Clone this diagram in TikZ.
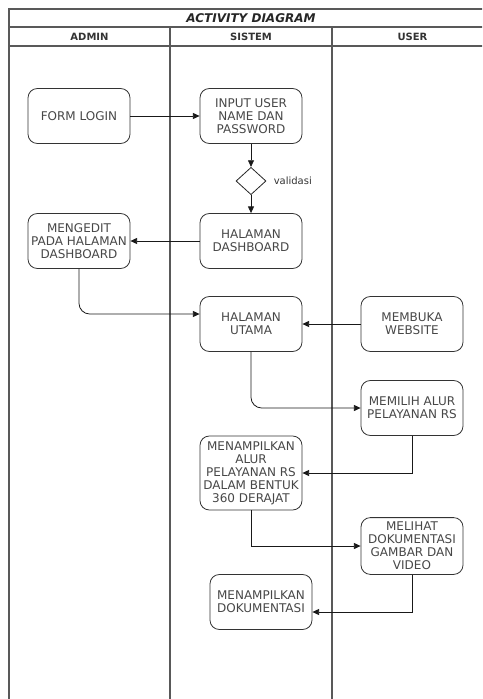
\documentclass[tikz,border=0pt]{standalone}
\usepackage{fontspec}
\setmainfont{DejaVu Sans}
\usetikzlibrary{arrows.meta,shapes.geometric,positioning}

\begin{document}
\begin{tikzpicture}[x=0.75pt, y=-0.75pt,
  lane/.style={line width=1.1pt, draw=black!65},
  act/.style={draw=black!80, line width=0.6pt, rounded corners=7pt, align=center,
    minimum width=76.5pt, minimum height=41.25pt, inner xsep=1pt,
    text=black!72, font=\fontsize{9}{9.75}\selectfont},
  decide/.style={draw=black!85, line width=0.6pt, diamond, inner sep=0pt,
    minimum width=22.5pt, minimum height=20.5pt},
  flow/.style={draw=black!90, line width=0.6pt, -{Triangle[length=5pt,width=4.5pt]}},
  head/.style={font=\fontsize{7.5}{9}\selectfont\bfseries, text=black!80}]
\useasboundingbox (0,0) rectangle (482,699);
\clip (0,0) rectangle (482,699);

% Swimlanes
\draw[lane] (9,9) rectangle (493,710);
\draw[lane] (9,27) -- (493,27);
\draw[lane] (9,46) -- (493,46);
\draw[lane] (170,27) -- (170,710);
\draw[lane] (332,27) -- (332,710);
\node[font=\fontsize{9}{10}\selectfont\bfseries\itshape, text=black!85] (title) at (251,18) {ACTIVITY DIAGRAM};
\node[head] (admin) at (89.5,36.5) {ADMIN};
\node[head] (sistem) at (251,36.5) {SISTEM};
\node[head] (user) at (412.5,36.5) {USER};

% Login
\node[act] (login) at (79,116) {FORM LOGIN};
\node[act] (input) at (251,116) {INPUT USER\\NAME DAN\\PASSWORD};
\node[decide] (valid) at (251,181) {};
\node[font=\fontsize{7.5}{9}\selectfont, text=black!80, right=2pt of valid] (validlbl) {validasi};
\node[act] (dash) at (251,241) {HALAMAN\\DASHBOARD};
\node[act] (edit) at (79,241) {MENGEDIT\\PADA HALAMAN\\DASHBOARD};

% Halaman utama
\node[act] (utama) at (251,324) {HALAMAN\\UTAMA};
\node[act] (buka) at (412,324) {MEMBUKA\\WEBSITE};
\node[act] (pilih) at (412,408) {MEMILIH ALUR\\PELAYANAN RS};
\node[act, minimum height=55.5pt] (alur) at (251,473) {MENAMPILKAN\\ALUR\\PELAYANAN RS\\DALAM BENTUK\\360 DERAJAT};
\node[act] (lihat) at (412,546) {MELIHAT\\DOKUMENTASI\\GAMBAR DAN\\VIDEO};
\node[act] (dok) at (261,602) {MENAMPILKAN\\DOKUMENTASI};

% Arrows
\draw[flow] (login) -- (input);
\draw[flow] (input) -- (valid);
\draw[flow] (valid) -- (dash);
\draw[flow] (dash) -- (edit);
\draw[flow, rounded corners=8pt] (edit.south) |- ([yshift=7.5pt]utama.west);
\draw[flow] (buka) -- (utama);
\draw[flow, rounded corners=8pt] (utama.south) |- (pilih.west);
\draw[flow] (pilih.south) |- (alur.east);
\draw[flow] (alur.south) |- (lihat.west);
\draw[flow] (lihat.south) |- ([yshift=-7.5pt]dok.east);
\end{tikzpicture}
\end{document}
